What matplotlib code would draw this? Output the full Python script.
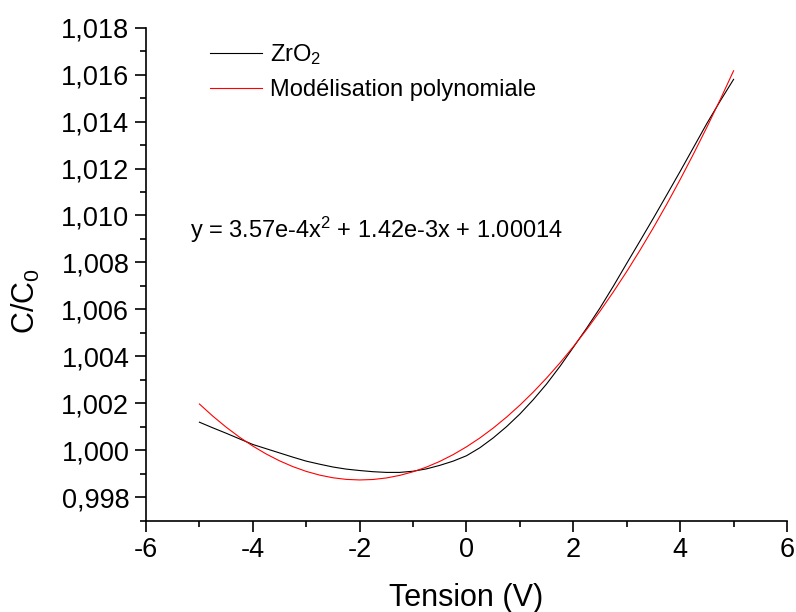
import matplotlib
matplotlib.use("Agg")
import matplotlib.pyplot as plt
from matplotlib.ticker import MultipleLocator, FuncFormatter

plt.rcParams['font.family'] = ['Liberation Sans', 'DejaVu Sans']
plt.rcParams['mathtext.fontset'] = 'custom'
plt.rcParams['mathtext.rm'] = 'Liberation Sans'
plt.rcParams['mathtext.it'] = 'Liberation Sans'
plt.rcParams['mathtext.default'] = 'regular'
plt.rcParams['axes.unicode_minus'] = False

# Data
tension = [-5.0, -4.75, -4.5, -4.25, -4.0, -3.75, -3.5, -3.25, -3.0, -2.75,
           -2.5, -2.25, -2.0, -1.75, -1.5, -1.25, -1.0, -0.75, -0.5, -0.25,
           0.0, 0.25, 0.5, 0.75, 1.0, 1.25, 1.5, 1.75, 2.0, 2.25,
           2.5, 2.75, 3.0, 3.25, 3.5, 3.75, 4.0, 4.25, 4.5, 4.75, 5.0]
zro2 = [1.00119, 1.00095, 1.00072, 1.00048, 1.00024, 1.00006, 0.99988, 0.99970,
        0.99953, 0.99940, 0.99928, 0.99919, 0.99913, 0.99908, 0.99905, 0.99905,
        0.99910, 0.99920, 0.99935, 0.99953, 0.99976, 1.00010, 1.00052, 1.00100,
        1.00154, 1.00215, 1.00282, 1.00357, 1.00438, 1.00520, 1.00606, 1.00699,
        1.00796, 1.00892, 1.00989, 1.01088, 1.01188, 1.01290, 1.01392, 1.01488,
        1.01580]
modele = [1.001965, 1.001450, 1.000979, 1.000553, 1.000172, 0.999835, 0.999543,
          0.999296, 0.999093, 0.998935, 0.998821, 0.998752, 0.998728, 0.998748,
          0.998813, 0.998923, 0.999077, 0.999276, 0.999519, 0.999807, 1.000140,
          1.000517, 1.000939, 1.001406, 1.001917, 1.002473, 1.003073, 1.003718,
          1.004408, 1.005142, 1.005921, 1.006745, 1.007613, 1.008526, 1.009483,
          1.010485, 1.011532, 1.012623, 1.013760, 1.014940, 1.016165]

series_labels = ['ZrO$_2$', 'Modélisation polynomiale']
equation = 'y = 3.57e-4x$^2$ + 1.42e-3x + 1.00014'

fig = plt.figure(figsize=(7.96, 6.12), dpi=100)
ax = fig.add_axes([0.1834, 0.1495, 0.8053, 0.8052])

ax.plot(tension, zro2, color='black', lw=0.8, label=series_labels[0])
ax.plot(tension, modele, color='red', lw=0.8, label=series_labels[1])

ax.set_xlim(-6, 6)
ax.set_ylim(0.997, 1.018)

ax.spines['top'].set_visible(False)
ax.spines['right'].set_visible(False)
for s in ('left', 'bottom'):
    ax.spines[s].set_linewidth(1.2)

ax.xaxis.set_major_locator(MultipleLocator(2))
ax.xaxis.set_minor_locator(MultipleLocator(1))
ax.yaxis.set_major_locator(MultipleLocator(0.002))
ax.yaxis.set_minor_locator(MultipleLocator(0.001))
ax.xaxis.set_major_formatter(FuncFormatter(lambda v, p: f"{v:g}"))
ax.yaxis.set_major_formatter(FuncFormatter(lambda v, p: f"{v:.3f}".replace('.', ',')))

ax.tick_params(which='major', direction='out', length=8, width=1.2, labelsize=19.5, pad=4)
ax.tick_params(which='minor', direction='out', length=4.5, width=1.2)

ax.set_xlabel('Tension (V)', fontsize=22, labelpad=14)
ax.set_ylabel('C/C$_0$', fontsize=22)
ax.yaxis.set_label_coords(-0.162, 0.445)

ax.text(0.0686, 0.5895, equation, transform=ax.transAxes, fontsize=17,
        ha='left', va='center')

ax.legend(loc='upper left', bbox_to_anchor=(0.092, 0.98), frameon=False,
          fontsize=17, handlelength=2.2, handletextpad=0.35, labelspacing=0.5,
          borderpad=0.2, borderaxespad=0)

fig.savefig('out.png', dpi=100)
